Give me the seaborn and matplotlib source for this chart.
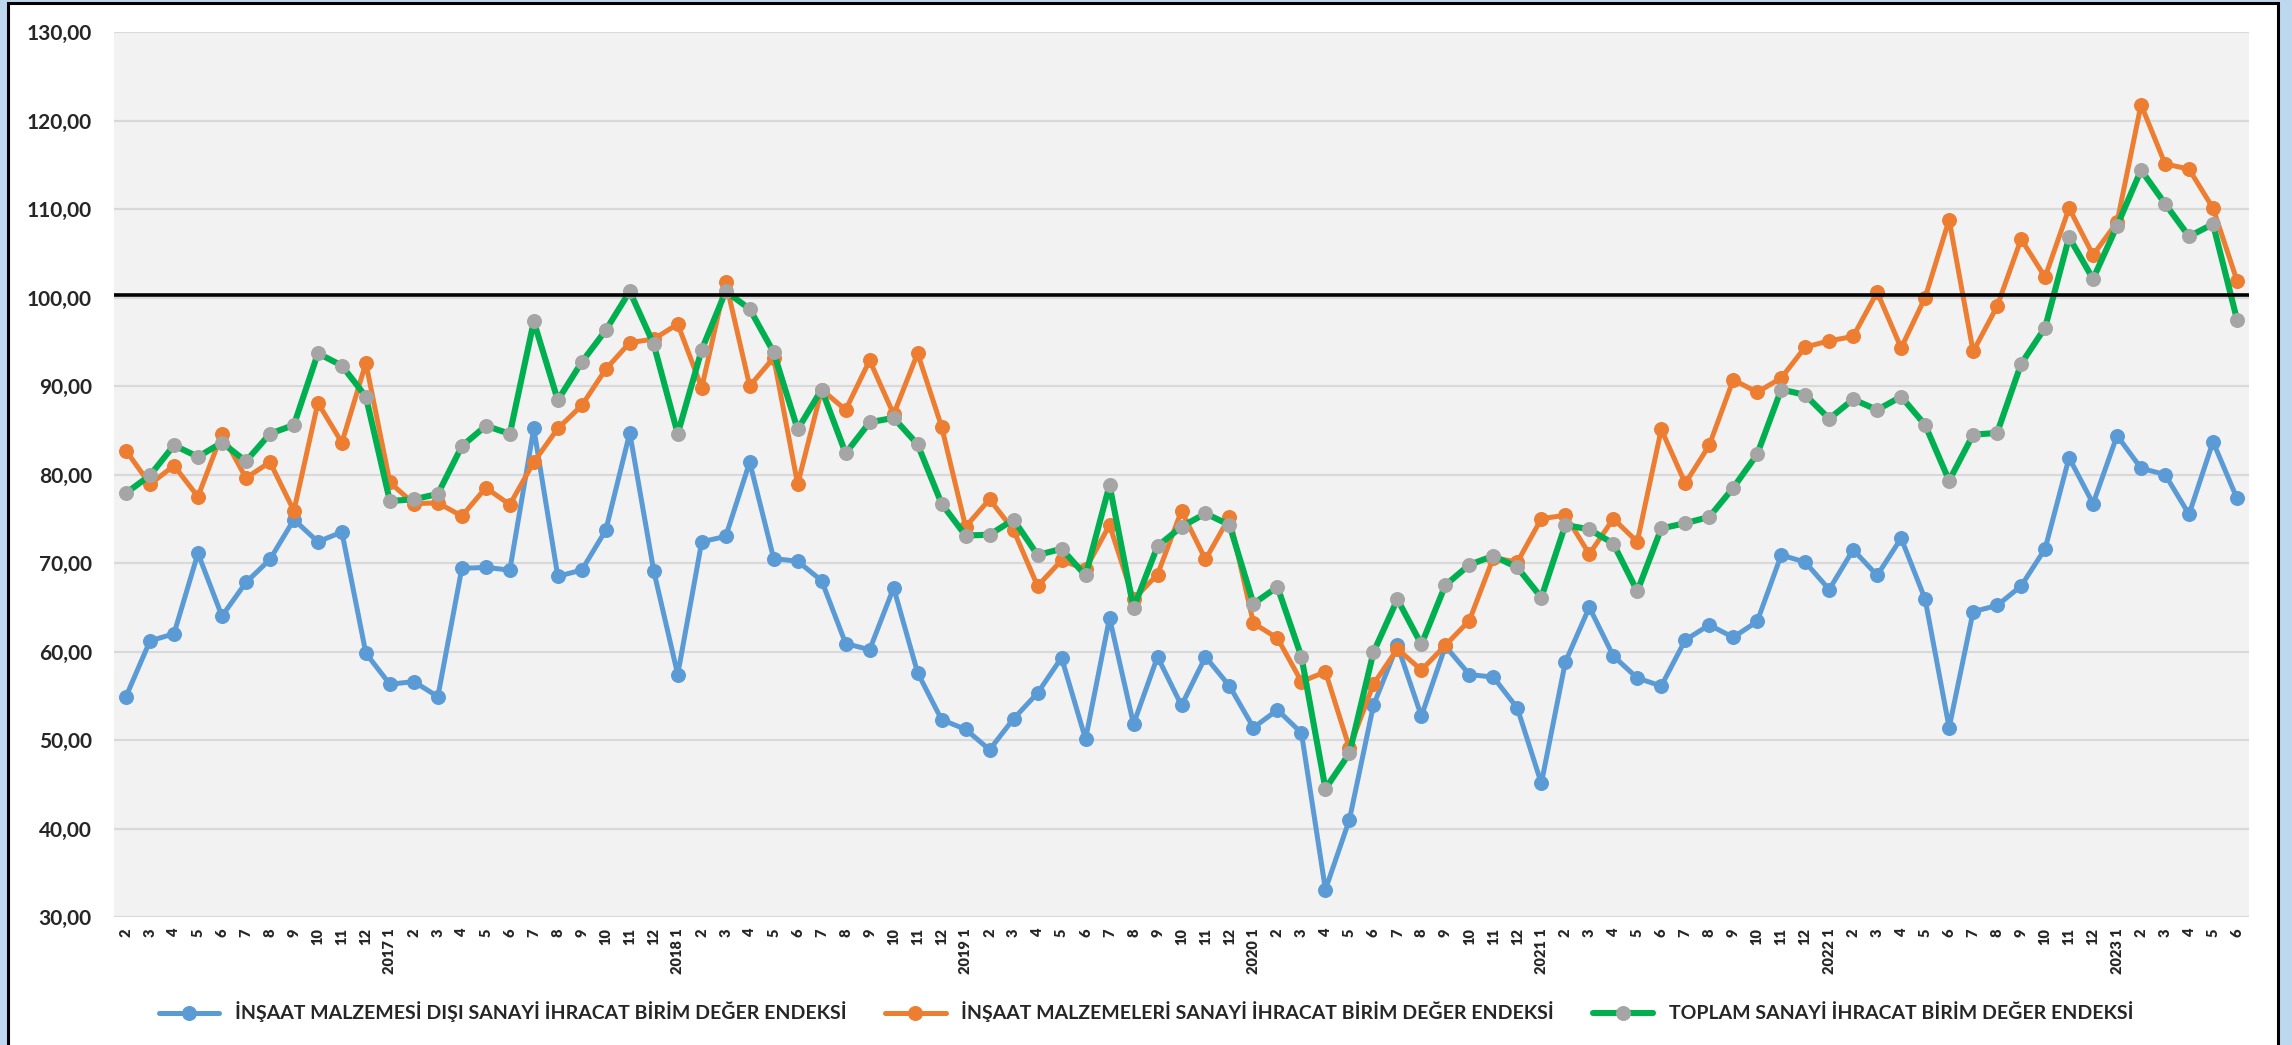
import numpy as np
import pandas as pd
import matplotlib

matplotlib.use("Agg")
import matplotlib.pyplot as plt
import seaborn as sns
from matplotlib.patches import Rectangle
from matplotlib.ticker import FuncFormatter

# aylar: 2016-2 .. 2023-6
years = [2016] * 11 + [y for y in range(2017, 2023) for _ in range(12)] + [2023] * 6
months = list(range(2, 13)) + list(range(1, 13)) * 6 + list(range(1, 7))

# İNŞAAT MALZEMESİ DIŞI
disi = [54.9, 61.2, 62.0, 71.1, 64.0, 67.8, 70.4, 74.9, 72.4, 73.5, 59.8,
        56.3, 56.6, 54.9, 69.4, 69.5, 69.2, 85.2, 68.5, 69.2, 73.7, 84.7, 69.1,
        57.4, 72.4, 73.0, 81.4, 70.5, 70.2, 68.0, 60.9, 60.2, 67.2, 57.6, 52.3,
        51.2, 48.9, 52.4, 55.3, 59.3, 50.1, 63.8, 51.8, 59.4, 53.9, 59.4, 56.1,
        51.4, 53.4, 50.8, 33.1, 41.0, 53.9, 60.7, 52.7, 60.6, 57.4, 57.1, 53.6,
        45.1, 58.8, 65.0, 59.5, 57.0, 56.1, 61.3, 63.0, 61.6, 63.4, 70.9, 70.1,
        67.0, 71.5, 68.6, 72.8, 65.9, 51.4, 64.5, 65.2, 67.4, 71.6, 81.9, 76.7,
        84.4, 80.7, 80.0, 75.5, 83.7, 77.3]

# İNŞAAT MALZEMELERİ
malzeme = [82.7, 78.9, 81.0, 77.5, 84.6, 79.6, 81.4, 75.9, 88.1, 83.6, 92.6,
           79.1, 76.7, 76.8, 75.3, 78.5, 76.6, 81.4, 85.2, 87.8, 91.9, 94.9, 95.3,
           97.0, 89.8, 101.8, 90.0, 93.2, 78.9, 89.6, 87.3, 92.9, 86.8, 93.7, 85.4,
           74.1, 77.2, 73.7, 67.4, 70.3, 69.3, 74.3, 65.9, 68.7, 75.9, 70.4, 75.2,
           63.2, 61.5, 56.6, 57.7, 49.1, 56.3, 60.3, 57.9, 60.7, 63.5, 70.6, 70.1,
           75.0, 75.4, 71.0, 75.0, 72.4, 85.1, 79.0, 83.3, 90.7, 89.3, 90.9, 94.4,
           95.1, 95.6, 100.6, 94.3, 100.0, 108.8, 93.9, 99.0, 106.6, 102.3, 110.1, 104.8,
           108.5, 121.8, 115.1, 114.5, 110.1, 101.9]

# TOPLAM
toplam = [77.9, 79.9, 83.3, 82.0, 83.6, 81.5, 84.6, 85.6, 93.7, 92.3, 88.8,
          77.0, 77.2, 77.8, 83.2, 85.5, 84.6, 97.3, 88.4, 92.7, 96.3, 100.7, 94.7,
          84.6, 94.1, 100.7, 98.7, 93.8, 85.1, 89.6, 82.4, 85.9, 86.4, 83.4, 76.7,
          73.1, 73.2, 74.9, 70.9, 71.6, 68.6, 78.8, 64.9, 71.9, 74.1, 75.6, 74.3,
          65.4, 67.3, 59.4, 44.5, 48.5, 59.9, 65.9, 60.8, 67.5, 69.8, 70.8, 69.5,
          66.1, 74.3, 73.8, 72.2, 66.8, 73.9, 74.5, 75.2, 78.5, 82.3, 89.6, 89.0,
          86.3, 88.5, 87.3, 88.8, 85.6, 79.3, 84.5, 84.7, 92.5, 96.6, 106.8, 102.1,
          108.1, 114.4, 110.6, 106.9, 108.3, 97.5]

names = ["İNŞAAT MALZEMESİ DIŞI SANAYİ İHRACAT BİRİM DEĞER ENDEKSİ",
         "İNŞAAT MALZEMELERİ SANAYİ İHRACAT BİRİM DEĞER ENDEKSİ",
         "TOPLAM SANAYİ İHRACAT BİRİM DEĞER ENDEKSİ"]
ref_level = 100.3

labels = [f"{y} {m}" if m == 1 else str(m) for y, m in zip(years, months)]
df = pd.DataFrame({"x": np.arange(len(labels)), "disi": disi,
                   "malzeme": malzeme, "toplam": toplam})

sns.set_style("white")
plt.rcParams["font.family"] = ["Lato", "DejaVu Sans"]

W, H = 2292, 1045
fig = plt.figure(figsize=(W / 100, H / 100), dpi=100)
fig.patch.set_facecolor("#BDD7EE")
fig.patches.append(Rectangle((8 / W, -0.1), 2270 / W, 1.1 - 3 / H,
                             transform=fig.transFigure, facecolor="white",
                             edgecolor="black", lw=2.2, zorder=-10))

ax = fig.add_axes([114 / W, 1 - 917 / H, 2135 / W, 885 / H])
ax.set_facecolor("#F2F2F2")

sns.lineplot(data=df, x="x", y="disi", ax=ax, color="#5B9BD5", lw=3.6,
             marker="o", markersize=10, markeredgecolor="#5B9BD5", label=names[0])
sns.lineplot(data=df, x="x", y="malzeme", ax=ax, color="#ED7D31", lw=3.6,
             marker="o", markersize=10, markeredgecolor="#ED7D31", label=names[1])
sns.lineplot(data=df, x="x", y="toplam", ax=ax, color="#00B050", lw=4.4,
             marker="o", markersize=10, markerfacecolor="#A5A5A5",
             markeredgecolor="#A5A5A5", label=names[2])
ax.axhline(ref_level, color="black", lw=2.6, zorder=5)

ax.set_xlim(-0.5, len(labels) - 0.5)
ax.set_ylim(30, 130)
ax.set_yticks(np.arange(30, 131, 10))
ax.yaxis.set_major_formatter(FuncFormatter(lambda v, p: f"{v:.2f}".replace(".", ",")))
ax.set_xticks(df["x"])
ax.set_xticklabels(labels, rotation=90, fontsize=10.5, fontweight="heavy")
for t in ax.get_yticklabels():
    t.set_fontsize(15)
    t.set_fontweight("bold")
ax.tick_params(axis="x", length=0, pad=8)
ax.tick_params(axis="y", length=0, pad=16)
ax.yaxis.grid(True, color="#D9D9D9", lw=1.6)
ax.set_axisbelow(True)
for s in ax.spines.values():
    s.set_visible(False)
ax.set_xlabel("")
ax.set_ylabel("")

handles, labs = ax.get_legend_handles_labels()
ax.get_legend().remove()
fig.legend(handles, labs, loc="center", bbox_to_anchor=(0.5, 1 - 1012 / H),
           ncol=3, frameon=False, handlelength=3.1, columnspacing=2.0,
           prop={"family": ["Lato", "DejaVu Sans"], "weight": "bold", "size": 14})

fig.savefig("out.png", dpi=100, facecolor=fig.get_facecolor())
plt.close(fig)
